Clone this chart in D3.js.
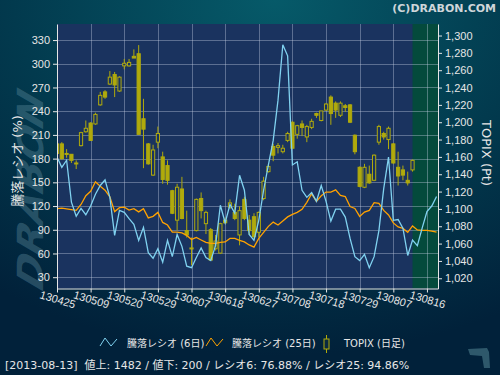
<!DOCTYPE html>
<html>
<head>
<meta charset="utf-8">
<script src="https://cdn.jsdelivr.net/npm/d3@7"></script>
<style>
html, body { margin: 0; padding: 0; background: #012338; }
svg { display: block; font-family: "DejaVu Sans", "Noto Sans CJK JP", sans-serif; }
</style>
</head>
<body>
<div id="chart"></div>
<script>
// Tick labels (yymmdd) and their trading-day index
const tickLabels = ["130425", "130509", "130520", "130529", "130607", "130618",
	"130627", "130708", "130718", "130729", "130807", "130816"];
const tickDays = [0, 7, 14, 21, 28, 35, 42, 49, 56, 63, 70, 77];

// 騰落レシオ (6日), one value per trading day
const ratio6 = [182, 169, 178, 125, 107, 117, 109, 120, 135, 146,
	153, 131, 83, 114.5, 112, 104, 97, 76.5, 93, 61,
	54, 66, 49, 76.5, 56, 84, 69, 44, 42, 55,
	67, 55, 51, 70, 121, 99, 122, 111, 159, 140,
	84, 76.5, 102, 140, 172, 203, 254, 324, 310, 172,
	176, 140, 131, 137, 126, 146, 126, 101, 116, 116,
	106, 79, 56, 51, 59, 42, 56, 89, 142, 182,
	102, 103, 92, 57.5, 76.88, 70, 92, 113, 120, 132];

// 騰落レシオ (25日)
const ratio25 = [116.7, 117.4, 116.4, 115.4, 114.5, 122, 133, 138.6, 150.7, 145,
	140, 131.6, 113, 118, 118.7, 115, 116.7, 112.6, 116.7, 105,
	107, 112, 99.3, 96, 87, 87, 86, 82.9, 77.8, 80.3,
	77.1, 74, 72.7, 72.7, 74, 74.6, 79, 79, 76.5, 74.6,
	70.8, 68, 79, 86.7, 94.3, 99.7, 96, 101.2, 106.3, 109.5,
	112, 115.8, 124.7, 135.5, 126, 133, 137.7, 137.7, 140.5, 133.5,
	132, 119.3, 117, 106.9, 112.4, 114.5, 124.3, 123.4, 114.5, 108.8,
	98.7, 93.6, 91.7, 86.7, 94.86, 89.8, 89.2, 89.2, 88.3, 87];

// TOPIX daily candles
const topixOpen = [1175, 1175, 1164, 1163, 1152, 1173, 1189, 1199, 1198, 1220,
	1235, 1244, 1255, 1236, 1265, 1265, 1276, 1279, 1204, 1175,
	1139, 1177, 1160, 1150, 1121, 1087, 1123, 1075, 1054, 1075,
	1112, 1083, 1076, 1054, 1049, 1087, 1102, 1096, 1070, 1111,
	1087, 1091, 1073, 1112, 1143, 1172, 1171, 1166, 1179, 1200,
	1186, 1198, 1183, 1194, 1210, 1202, 1214, 1229, 1222, 1208,
	1219, 1220, 1185, 1148, 1125, 1140, 1133, 1177, 1187, 1180,
	1175, 1148, 1145, 1133, 1145];
const topixHigh = [1177, 1177, 1169, 1163, 1156, 1189, 1202, 1200, 1211, 1235,
	1237, 1259, 1258, 1253, 1273, 1273, 1284, 1289, 1227, 1176,
	1174, 1195, 1166, 1156, 1122, 1129, 1137, 1098, 1067, 1112,
	1119, 1098, 1078, 1070, 1084, 1090, 1111, 1106, 1103, 1114,
	1093, 1095, 1097, 1137, 1152, 1175, 1176, 1174, 1189, 1201,
	1197, 1202, 1197, 1204, 1211, 1213, 1222, 1231, 1224, 1224,
	1221, 1221, 1186, 1149, 1152, 1150, 1163, 1197, 1189, 1195,
	1176, 1166, 1150, 1143, 1157];
const topixLow = [1160, 1157, 1159, 1153, 1146, 1172, 1188, 1179, 1197, 1219,
	1227, 1243, 1229, 1235, 1261, 1264, 1274, 1186, 1147, 1151,
	1138, 1170, 1129, 1128, 1094, 1075, 1088, 1067, 1035, 1074,
	1089, 1071, 1040, 1052, 1048, 1083, 1100, 1087, 1058, 1087,
	1070, 1066, 1067, 1110, 1142, 1155, 1164, 1164, 1177, 1169,
	1181, 1184, 1177, 1192, 1205, 1201, 1213, 1197, 1205, 1206,
	1212, 1199, 1163, 1125, 1124, 1129, 1132, 1174, 1180, 1169,
	1152, 1127, 1133, 1127, 1143];
const topixClose = [1164, 1158, 1163, 1156, 1153, 1188, 1193, 1179, 1209, 1231,
	1229, 1252, 1243, 1252, 1268, 1269, 1274, 1186, 1192, 1152,
	1168, 1187, 1134, 1133, 1095, 1125, 1089, 1070, 1055, 1111,
	1098, 1096, 1041, 1063, 1083, 1084, 1107, 1089, 1098, 1089,
	1075, 1068, 1096, 1132, 1149, 1162, 1173, 1170, 1187, 1170,
	1196, 1194, 1195, 1201, 1208, 1213, 1221, 1210, 1214, 1222,
	1217, 1200, 1166, 1126, 1148, 1130, 1162, 1195, 1183, 1193,
	1153, 1138, 1139, 1130, 1156];

const legendItems = ["騰落レシオ (6日)", "騰落レシオ (25日)", "TOPIX (日足)"];
const statusText = "[2013-08-13]  値上: 1482 / 値下: 200 / レシオ6: 76.88% / レシオ25: 94.86%";

// Layout
const width = 500, height = 375;
const plot = { left: 57, right: 438, top: 24, bottom: 288.5 };
const lastDay = topixClose.length - 1;

const x = d3.scaleLinear().domain([0, 79.3]).range([plot.left, plot.right]);
const yRatio = d3.scaleLinear().domain([15.7, 350.3]).range([plot.bottom, plot.top]);
const yTopix = d3.scaleLinear().domain([1008.2, 1313.3]).range([plot.bottom, plot.top]);

const blue = "#80d2f0", orange = "#ffa200", candleCol = "#b0aa0c";

const svg = d3.select("#chart").append("svg")
	.attr("width", width)
	.attr("height", height)
	.attr("viewBox", [0, 0, width, height]);

const defs = svg.append("defs");
const bg = defs.append("radialGradient")
	.attr("id", "bg-grad")
	.attr("cx", "55%").attr("cy", "0%").attr("r", "95%");
bg.append("stop").attr("offset", 0).attr("stop-color", "#065a69");
bg.append("stop").attr("offset", 0.55).attr("stop-color", "#023a4e");
bg.append("stop").attr("offset", 1).attr("stop-color", "#01213a");

defs.append("clipPath").attr("id", "plot-clip")
	.append("rect")
	.attr("x", plot.left).attr("y", plot.top)
	.attr("width", plot.right - plot.left)
	.attr("height", plot.bottom - plot.top);

svg.append("rect")
	.attr("width", width).attr("height", height)
	.attr("fill", "url(#bg-grad)");

// watermark
svg.append("text")
	.attr("transform", "translate(43,292) rotate(-90) skewX(-20)")
	.attr("font-size", 36)
	.attr("font-weight", "bold")
	.attr("font-style", "italic")
	.attr("textLength", 196)
	.attr("lengthAdjust", "spacingAndGlyphs")
	.attr("fill", "#6a97a8")
	.attr("fill-opacity", 0.36)
	.text("DRABON");

// copyright
svg.append("text")
	.attr("x", 496).attr("y", 12)
	.attr("text-anchor", "end")
	.attr("font-size", 11)
	.attr("font-weight", "bold")
	.attr("fill", "#cfd6da")
	.text("(C)DRABON.COM");

// plot background and the region after the last candle
svg.append("rect")
	.attr("x", plot.left).attr("y", plot.top)
	.attr("width", plot.right - plot.left)
	.attr("height", plot.bottom - plot.top)
	.attr("fill", "#1a335f");
svg.append("rect")
	.attr("x", x(lastDay)).attr("y", plot.top)
	.attr("width", plot.right - x(lastDay))
	.attr("height", plot.bottom - plot.top)
	.attr("fill", "#044a3c");

// grid
const grid = svg.append("g")
	.attr("stroke", "#c8d2e6")
	.attr("stroke-opacity", 0.38)
	.attr("stroke-width", 1);
grid.selectAll("line.h")
	.data(d3.range(30, 331, 30))
	.join("line")
	.attr("x1", plot.left).attr("x2", plot.right)
	.attr("y1", d => Math.round(yRatio(d)) + 0.5)
	.attr("y2", d => Math.round(yRatio(d)) + 0.5);
grid.selectAll("line.v")
	.data(tickDays.slice(1))
	.join("line")
	.attr("x1", d => Math.round(x(d)) + 0.5)
	.attr("x2", d => Math.round(x(d)) + 0.5)
	.attr("y1", plot.top).attr("y2", plot.bottom);

const inner = svg.append("g").attr("clip-path", "url(#plot-clip)");

// candles
const candles = inner.append("g")
	.selectAll("g")
	.data(topixClose.map((c, i) => ({ i, o: topixOpen[i], h: topixHigh[i], l: topixLow[i], c })))
	.join("g");
candles.append("line")
	.attr("x1", d => x(d.i)).attr("x2", d => x(d.i))
	.attr("y1", d => yTopix(d.h)).attr("y2", d => yTopix(d.l))
	.attr("stroke", candleCol)
	.attr("stroke-width", 1);
candles.append("rect")
	.attr("x", d => x(d.i) - 1.6)
	.attr("width", 3.2)
	.attr("y", d => yTopix(Math.max(d.o, d.c)))
	.attr("height", d => Math.max(1, Math.abs(yTopix(d.o) - yTopix(d.c))))
	.attr("fill", d => d.c < d.o ? candleCol : "#1a335f")
	.attr("stroke", candleCol)
	.attr("stroke-width", 1);

// ratio lines
const line = d3.line()
	.x((d, i) => x(i))
	.y(d => yRatio(d));
inner.append("path")
	.datum(ratio25)
	.attr("fill", "none")
	.attr("stroke", orange)
	.attr("stroke-width", 1.3)
	.attr("d", line);
inner.append("path")
	.datum(ratio6)
	.attr("fill", "none")
	.attr("stroke", blue)
	.attr("stroke-width", 1.3)
	.attr("d", line);

// axes
function styleAxis(g) {
	g.selectAll(".domain, .tick line").attr("stroke", "#e6e6e6");
	g.selectAll("text").attr("fill", "#e6e6e6").attr("font-size", 11);
}

svg.append("g")
	.attr("transform", `translate(${plot.left},0)`)
	.call(d3.axisLeft(yRatio).tickValues(d3.range(30, 331, 30)).tickSize(4).tickPadding(3).tickSizeOuter(0))
	.call(styleAxis);

svg.append("g")
	.attr("transform", `translate(${plot.right},0)`)
	.call(d3.axisRight(yTopix).tickValues(d3.range(1020, 1301, 20)).tickFormat(d3.format(",")).tickSize(4).tickPadding(3).tickSizeOuter(0))
	.call(styleAxis);

const xAxis = svg.append("g")
	.attr("transform", `translate(0,${plot.bottom})`)
	.call(d3.axisBottom(x).tickValues(tickDays).tickFormat((d, i) => tickLabels[i]).tickSize(4).tickSizeOuter(0))
	.call(styleAxis);
xAxis.selectAll(".tick text")
	.attr("y", 0).attr("dy", 0)
	.attr("text-anchor", "middle")
	.attr("dominant-baseline", "middle")
	.attr("transform", "translate(0,12) rotate(17)");

// axis titles
svg.append("text")
	.attr("transform", "translate(22,161) rotate(-90)")
	.attr("text-anchor", "middle")
	.attr("font-size", 13)
	.attr("fill", "#e6e6e6")
	.text("騰落レシオ (%)");
svg.append("text")
	.attr("transform", "translate(482,153) rotate(90)")
	.attr("text-anchor", "middle")
	.attr("font-size", 13)
	.attr("fill", "#e6e6e6")
	.text("TOPIX (Pt)");

// legend
const legend = svg.append("g").attr("font-size", 10).attr("fill", "#e6e6e6");
const zig = (x0, y0) => `M${x0},${y0 + 8} L${x0 + 5},${y0} L${x0 + 11},${y0 + 8} L${x0 + 17},${y0 + 1}`;
legend.append("path").attr("d", zig(100, 338)).attr("fill", "none").attr("stroke", blue).attr("stroke-width", 1);
legend.append("text").attr("x", 127).attr("y", 347).text(legendItems[0]);
legend.append("path").attr("d", zig(206, 338)).attr("fill", "none").attr("stroke", orange).attr("stroke-width", 1);
legend.append("text").attr("x", 232).attr("y", 347).text(legendItems[1]);
legend.append("line").attr("x1", 326.5).attr("x2", 326.5).attr("y1", 335).attr("y2", 353)
	.attr("stroke", candleCol);
legend.append("rect").attr("x", 324).attr("y", 339).attr("width", 5).attr("height", 10)
	.attr("fill", "#0a2a40").attr("stroke", candleCol);
legend.append("text").attr("x", 344).attr("y", 347).text(legendItems[2]);

// status line
svg.append("text")
	.attr("x", 5).attr("y", 369)
	.attr("font-size", 11)
	.attr("fill", "#e6e6e6")
	.attr("xml:space", "preserve")
	.style("white-space", "pre")
	.text(statusText);

// small logo mark at the bottom right
svg.append("path")
	.attr("d", "M468,349 L487,348 L489,352 L490,368 L484,368 L482,356 L470,355 Z")
	.attr("fill", "#3a6678")
	.attr("fill-opacity", 0.8);
</script>
</body>
</html>
